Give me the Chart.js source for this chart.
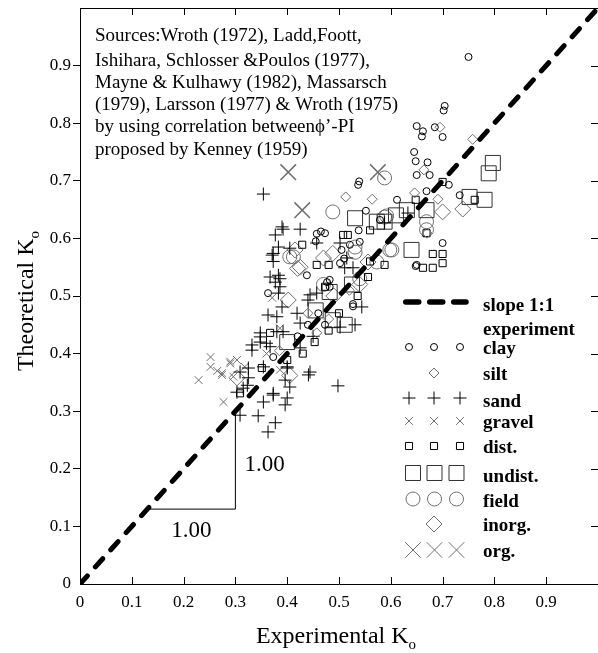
<!DOCTYPE html>
<html><head><meta charset="utf-8">
<script src="https://cdn.jsdelivr.net/npm/chart.js@4/dist/chart.umd.min.js"></script>
<style>html,body{margin:0;padding:0;background:#fff;}canvas{display:block}</style>
</head><body>
<canvas id="c" width="598" height="653"></canvas>
<script>
// ---- data ----
const tickLabels = ['0','0.1','0.2','0.3','0.4','0.5','0.6','0.7','0.8','0.9',null];
const slopeLine = [[0,0],[1,1]];
const triangle = [[0.13,0.13],[0.3,0.13],[0.3,0.3]];
const clay = [[0.750,0.915],[0.704,0.830],[0.702,0.822],[0.650,0.795],[0.662,0.786],[0.660,0.777],[0.685,0.793],[0.700,0.776],[0.645,0.750],[0.648,0.734],[0.671,0.732],[0.650,0.710],[0.675,0.710],[0.612,0.667],[0.669,0.682],[0.712,0.693],[0.733,0.675],[0.552,0.648],[0.537,0.693],[0.539,0.699],[0.700,0.592],[0.650,0.554],[0.538,0.614],[0.457,0.608],[0.473,0.609],[0.502,0.557],[0.521,0.589],[0.540,0.594],[0.477,0.524],[0.527,0.486],[0.473,0.450],[0.482,0.516],[0.363,0.505],[0.373,0.394],[0.438,0.536],[0.465,0.612],[0.579,0.632],[0.505,0.580],[0.482,0.528],[0.527,0.482],[0.648,0.552],[0.440,0.450],[0.460,0.470],[0.420,0.430],[0.455,0.595],[0.510,0.565]];
const silt = [[0.695,0.793],[0.758,0.772],[0.664,0.719],[0.513,0.672],[0.564,0.668],[0.646,0.679],[0.691,0.668],[0.670,0.609],[0.457,0.436],[0.480,0.460],[0.385,0.405],[0.520,0.510],[0.440,0.470]];
const sand = [[0.354,0.677],[0.390,0.620],[0.425,0.616],[0.377,0.606],[0.383,0.585],[0.371,0.571],[0.373,0.560],[0.405,0.583],[0.457,0.592],[0.367,0.533],[0.383,0.536],[0.386,0.516],[0.383,0.505],[0.444,0.502],[0.457,0.505],[0.373,0.574],[0.377,0.524],[0.363,0.467],[0.380,0.464],[0.390,0.481],[0.348,0.429],[0.360,0.418],[0.332,0.415],[0.367,0.412],[0.392,0.438],[0.419,0.470],[0.309,0.368],[0.325,0.358],[0.354,0.377],[0.400,0.377],[0.396,0.354],[0.405,0.342],[0.373,0.331],[0.354,0.316],[0.396,0.311],[0.303,0.333],[0.323,0.345],[0.344,0.292],[0.363,0.264],[0.377,0.280],[0.309,0.293],[0.348,0.436],[0.380,0.438],[0.332,0.406],[0.348,0.420],[0.444,0.368],[0.441,0.363],[0.373,0.328],[0.400,0.323],[0.400,0.375],[0.325,0.375],[0.315,0.340],[0.425,0.410],[0.425,0.453],[0.440,0.493],[0.450,0.430],[0.498,0.344],[0.531,0.450],[0.502,0.446],[0.588,0.627],[0.515,0.566],[0.544,0.481],[0.633,0.644],[0.511,0.549],[0.392,0.616],[0.502,0.592],[0.527,0.549],[0.386,0.530]];
const gravel = [[0.229,0.354],[0.252,0.394],[0.252,0.377],[0.274,0.366],[0.290,0.383],[0.303,0.389],[0.318,0.377],[0.277,0.316],[0.296,0.360],[0.371,0.497],[0.386,0.444],[0.290,0.386],[0.274,0.363],[0.386,0.372],[0.265,0.370],[0.360,0.400]];
const distSamples = [[0.429,0.589],[0.457,0.554],[0.480,0.554],[0.508,0.606],[0.517,0.606],[0.560,0.614],[0.588,0.554],[0.556,0.533],[0.681,0.573],[0.700,0.573],[0.700,0.557],[0.662,0.549],[0.681,0.549],[0.669,0.609],[0.762,0.667],[0.700,0.698],[0.648,0.667],[0.473,0.516],[0.367,0.436],[0.400,0.389],[0.309,0.331],[0.351,0.375],[0.453,0.420],[0.480,0.440],[0.430,0.400],[0.500,0.470],[0.536,0.500],[0.560,0.560]];
const undistSamples = [[0.789,0.713],[0.797,0.731],[0.752,0.672],[0.781,0.667],[0.669,0.649],[0.531,0.635],[0.631,0.649],[0.640,0.580],[0.573,0.629],[0.588,0.629],[0.488,0.458],[0.511,0.450],[0.482,0.507],[0.400,0.420],[0.455,0.475],[0.525,0.520],[0.610,0.640]];
const field = [[0.488,0.646],[0.588,0.705],[0.592,0.639],[0.412,0.568],[0.602,0.580],[0.573,0.559],[0.531,0.585],[0.669,0.629],[0.669,0.615],[0.531,0.576],[0.598,0.580],[0.588,0.637],[0.405,0.568],[0.470,0.520],[0.540,0.530]];
const inorg = [[0.700,0.646],[0.739,0.651],[0.470,0.566],[0.488,0.574],[0.420,0.548],[0.556,0.559],[0.402,0.493],[0.405,0.362],[0.425,0.550],[0.415,0.580],[0.303,0.358],[0.540,0.520],[0.490,0.500]];
const org = [[0.402,0.715],[0.575,0.715],[0.429,0.649]];
const noteLines = ['Sources:Wroth (1972), Ladd,Foott,','Ishihara, Schlosser &Poulos (1977),','Mayne & Kulhawy (1982), Massarsch','(1979), Larsson (1977) & Wroth (1975)','by using correlation between\u03d5\u2019-PI','proposed by Kenney (1959)'];
const legendLabels = ['slope 1:1','experiment','clay','silt','sand','gravel','dist.','undist.','field','inorg.','org.'];

const SERIF = '"Liberation Serif","Times New Roman",serif';
const GRAY = '#6f6f6f';
const pts = a => a.map(p => ({x:p[0], y:p[1]}));

// marker styles per category
const styles = {
  clay:   {pointStyle:'circle',  radius:3.5, color:'#000', bw:1},
  silt:   {pointStyle:'rectRot', radius:5,   color:GRAY,  bw:1},
  sand:   {pointStyle:'cross',   radius:6.5, color:'#000', bw:1},
  gravel: {pointStyle:'crossRot',radius:5.5, color:GRAY,  bw:1},
  dist:   {pointStyle:'rect',    radius:5,   color:'#000', bw:1},
  undist: {pointStyle:'rect',    radius:10.6,color:'#333', bw:1},
  field:  {pointStyle:'circle',  radius:7,   color:GRAY,  bw:1},
  inorg:  {pointStyle:'rectRot', radius:8,   color:GRAY,  bw:1},
  org:    {pointStyle:'crossRot',radius:11,  color:GRAY,  bw:1.5}
};
function scat(label, arr, s){
  return {type:'scatter', label, data:pts(arr), pointStyle:s.pointStyle, pointRadius:s.radius, pointHoverRadius:s.radius,
    pointBorderColor:s.color, pointBackgroundColor:'rgba(0,0,0,0)', pointBorderWidth:s.bw, showLine:false};
}

function drawMarker(ctx, s, x, y, bw){
  ctx.save();
  ctx.strokeStyle = s.color; ctx.lineWidth = bw || s.bw;
  ctx.beginPath();
  const r = s.radius;
  if (s.pointStyle==='circle'){ ctx.arc(x,y,r,0,Math.PI*2); }
  else if (s.pointStyle==='rect'){ const h=r*Math.SQRT1_2; ctx.rect(x-h,y-h,2*h,2*h); }
  else if (s.pointStyle==='rectRot'){ ctx.moveTo(x,y-r); ctx.lineTo(x+r,y); ctx.lineTo(x,y+r); ctx.lineTo(x-r,y); ctx.closePath(); }
  else if (s.pointStyle==='cross'){ ctx.moveTo(x-r,y); ctx.lineTo(x+r,y); ctx.moveTo(x,y-r); ctx.lineTo(x,y+r); }
  else if (s.pointStyle==='crossRot'){ const h=r*Math.SQRT1_2; ctx.moveTo(x-h,y-h); ctx.lineTo(x+h,y+h); ctx.moveTo(x-h,y+h); ctx.lineTo(x+h,y-h); }
  ctx.stroke();
  ctx.restore();
}

const decor = {
  id:'decor',
  afterDraw(chart){
    const {ctx, chartArea:a, scales:{x, y}} = chart;
    ctx.save();
    ctx.strokeStyle='#000'; ctx.lineWidth=1;
    ctx.beginPath();
    ctx.moveTo(a.left, Math.round(a.top)+0.5); ctx.lineTo(a.right, Math.round(a.top)+0.5);
    for (let i=1;i<10;i++){
      const v=i/10;
      const px=Math.round(x.getPixelForValue(v))+0.5;
      ctx.moveTo(px,a.bottom); ctx.lineTo(px,a.bottom-7);
      ctx.moveTo(px,a.top); ctx.lineTo(px,a.top+7);
      const py=Math.round(y.getPixelForValue(v))+0.5;
      ctx.moveTo(a.right,py); ctx.lineTo(a.right-7,py);
    }
    ctx.stroke();

    // note text
    ctx.fillStyle='#000';
    ctx.font='19px '+SERIF;
    ctx.textAlign='left'; ctx.textBaseline='alphabetic';
    const noteBase=[41,66,88,110,132,155];
    noteLines.forEach((t,i)=>ctx.fillText(t,95,noteBase[i]));

    // slope triangle labels
    ctx.font='23px '+SERIF;
    ctx.fillText('1.00', x.getPixelForValue(0.3)+9, y.getPixelForValue(0.196));
    ctx.textAlign='center';
    ctx.fillText('1.00', x.getPixelForValue(0.215), y.getPixelForValue(0.082));

    // axis titles
    ctx.textAlign='left';
    ctx.font='24px '+SERIF;
    const xt='Experimental K';
    const w1=ctx.measureText(xt).width;
    ctx.font='15px '+SERIF;
    const w2=ctx.measureText('o').width;
    const cx=(a.left+a.right)/2-3;
    let sx=cx-(w1+w2)/2;
    ctx.font='24px '+SERIF; ctx.fillText(xt,sx,643);
    ctx.font='15px '+SERIF; ctx.fillText('o',sx+w1,649);

    ctx.save();
    ctx.translate(33,301); ctx.rotate(-Math.PI/2);
    ctx.font='24px '+SERIF;
    const yt='Theoretical K';
    const v1=ctx.measureText(yt).width;
    ctx.font='15px '+SERIF;
    const v2=ctx.measureText('o').width;
    let sy=-(v1+v2)/2;
    ctx.font='24px '+SERIF; ctx.fillText(yt,sy,0);
    ctx.font='15px '+SERIF; ctx.fillText('o',sy+v1,6);
    ctx.restore();

    // legend
    ctx.lineWidth=5.5; ctx.lineCap='round'; ctx.setLineDash([13,11]);
    ctx.beginPath(); ctx.moveTo(405.75,302); ctx.lineTo(466,302); ctx.stroke();
    ctx.setLineDash([]); ctx.lineCap='butt';
    ctx.font='bold 19px '+SERIF; ctx.fillStyle='#000'; ctx.textAlign='left';
    const lb=[311,335,354,380,407,428,453,482,507,531,557];
    legendLabels.forEach((t,i)=>ctx.fillText(t,483,lb[i]));
    const small=[409,434,460], big=[413,434.5,456.5];
    small.forEach(px=>drawMarker(ctx,styles.clay,px,347));
    drawMarker(ctx,styles.silt,434,373);
    small.forEach(px=>drawMarker(ctx,styles.sand,px,398));
    small.forEach(px=>drawMarker(ctx,styles.gravel,px,421));
    small.forEach(px=>drawMarker(ctx,styles.dist,px,446));
    big.forEach(px=>drawMarker(ctx,styles.undist,px,473));
    big.forEach(px=>drawMarker(ctx,styles.field,px,499));
    drawMarker(ctx,styles.inorg,434,524);
    big.forEach(px=>drawMarker(ctx,styles.org,px,550,1));
    ctx.restore();
  }
};

const tickCb = v => { const i=Math.round(v*10); return tickLabels[i]; };
const hideEnds = c => (c.tick && (c.tick.value<0.001 || c.tick.value>0.999)) ? 'rgba(0,0,0,0)' : '#000';

new Chart(document.getElementById('c'), {
  data:{datasets:[
    {type:'line', label:'slope 1:1', data:pts(slopeLine), borderColor:'#000', borderWidth:5, borderDash:[11,12], borderCapStyle:'round', pointRadius:0, fill:false},
    {type:'line', label:'triangle', data:pts(triangle), borderColor:'#000', borderWidth:1, pointRadius:0, fill:false, tension:0},
    scat('clay', clay, styles.clay),
    scat('silt', silt, styles.silt),
    scat('sand', sand, styles.sand),
    scat('gravel', gravel, styles.gravel),
    scat('dist.', distSamples, styles.dist),
    scat('undist.', undistSamples, styles.undist),
    scat('field', field, styles.field),
    scat('inorg.', inorg, styles.inorg),
    scat('org.', org, styles.org)
  ]},
  options:{
    responsive:false, animation:false, devicePixelRatio:1,
    layout:{autoPadding:false, padding:{top:8,right:0,left:0,bottom:0}},
    plugins:{legend:{display:false}, tooltip:{enabled:false}},
    scales:{
      x:{type:'linear', min:0, max:1, position:'bottom',
         ticks:{stepSize:0.1, callback:tickCb, color:'#000', font:{family:SERIF,size:17}, padding:8, maxRotation:0, autoSkip:false},
         grid:{display:true, drawOnChartArea:false, drawTicks:false},
         border:{display:true, color:'#000', width:1},
         afterFit:s=>{s.height=69; s.paddingLeft=0; s.paddingRight=0;}},
      y:{type:'linear', min:0, max:1, position:'left',
         ticks:{stepSize:0.1, callback:tickCb, color:'#000', font:{family:SERIF,size:17}, padding:2, autoSkip:false},
         grid:{display:true, drawOnChartArea:false, drawTicks:true, tickLength:7, color:hideEnds},
         border:{display:true, color:'#000', width:1},
         afterFit:s=>{s.width=80; s.paddingTop=0; s.paddingBottom=0;}}
    }
  },
  plugins:[decor]
});
</script>
</body></html>
